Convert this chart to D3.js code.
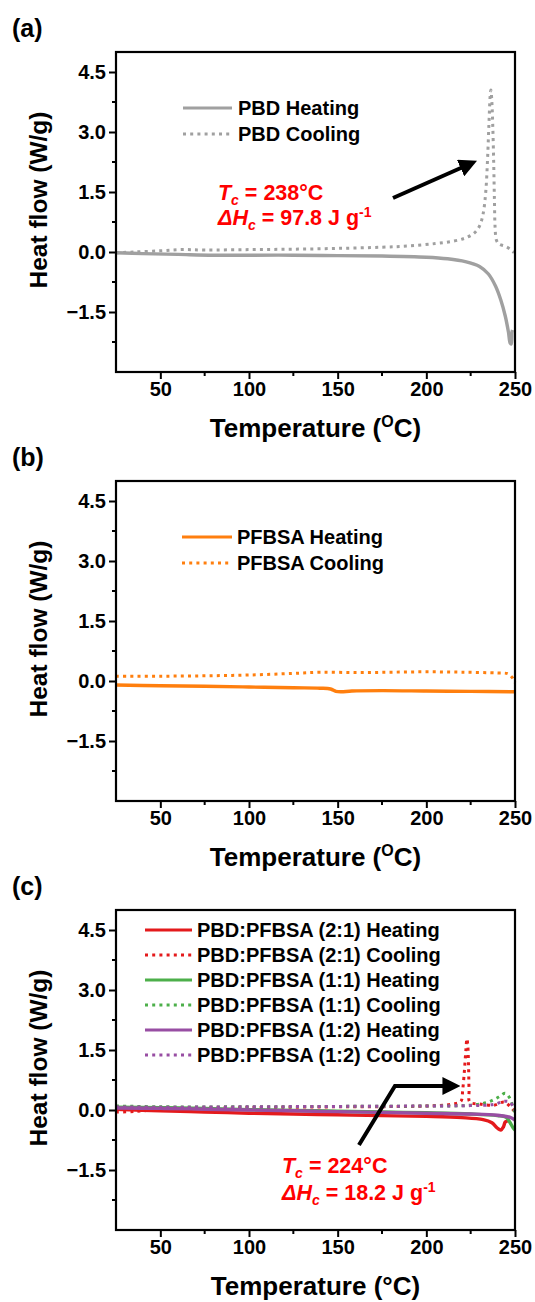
<!DOCTYPE html>
<html>
<head>
<meta charset="utf-8">
<script src="https://cdn.jsdelivr.net/npm/d3@7"></script>
<style>
  body { margin: 0; background: #fff; }
  text { font-family: Arial, "Liberation Sans", sans-serif; font-weight: bold; }
</style>
</head>
<body>
<svg id="chart"></svg>
<script>
// tick values shared by every panel
const xTicks = [50, 100, 150, 200, 250];
const xMinorTicks = [75, 125, 175, 225];
const yTicks = [-1.5, 0, 1.5, 3.0, 4.5];
const yMinorTicks = [-2.25, -0.75, 0.75, 2.25, 3.75];

// (a) PBD  [temperature, heat flow]
const pbdHeating = [[25,-0.02],[40,-0.04],[60,-0.06],[80,-0.08],[100,-0.08],[125,-0.08],[150,-0.09],[175,-0.1],
  [200,-0.13],[212,-0.17],[222,-0.24],[230,-0.36],[235,-0.55],[239,-0.85],[242,-1.2],[244.5,-1.6],[246.3,-2.0],
  [247.3,-2.28],[247.9,-2.3],[248.3,-2.0],[248.6,-1.95]];
const pbdCooling = [[25,-0.02],[35,0.0],[50,0.03],[62,0.06],[75,0.05],[100,0.06],[125,0.07],[150,0.09],[175,0.12],
  [190,0.15],[205,0.21],[215,0.27],[222,0.35],[227,0.47],[230,0.65],[232,0.95],[233.5,1.5],[234.5,2.3],[235.3,3.2],
  [236,3.9],[236.4,4.05],[236.9,3.8],[237.5,3.1],[238,2.2],[238.4,1.3],[238.8,0.6],[239.5,0.3],[241,0.2],[244,0.15],
  [247,0.08],[249.5,-0.02]];

// (b) PFBSA
const pfbsaHeating = [[25,-0.1],[50,-0.12],[75,-0.13],[100,-0.15],[125,-0.17],[140,-0.18],[146,-0.2],[149,-0.26],
  [152,-0.27],[158,-0.25],[175,-0.24],[200,-0.25],[225,-0.26],[250,-0.27]];
const pfbsaCooling = [[25,0.12],[50,0.12],[75,0.13],[100,0.15],[125,0.19],[140,0.22],[160,0.21],[180,0.22],[200,0.23],
  [220,0.22],[240,0.2],[246,0.18],[248.5,0.08],[250,-0.04]];

// (c) blends
const blend21Heating = [[25,0.02],[50,-0.02],[75,-0.05],[100,-0.08],[125,-0.1],[150,-0.12],[175,-0.14],[200,-0.16],
  [220,-0.19],[232,-0.24],[237,-0.32],[240,-0.45],[242,-0.5],[243.5,-0.42],[244.5,-0.3],[246,-0.27]];
const blend21Cooling = [[25,-0.05],[35,-0.04],[50,0.02],[65,0.05],[100,0.06],[150,0.08],[200,0.1],[215,0.15],
  [219.5,0.22],[220.5,0.5],[221.5,1.0],[222.3,1.5],[222.9,1.78],[223.4,1.6],[223.8,1.1],[224.1,0.5],[224.5,0.2],
  [230,0.15],[238,0.12],[244,0.2],[247,0.1],[250,-0.05]];
const blend11Heating = [[25,0.07],[50,0.06],[75,0.04],[100,0.01],[125,-0.01],[150,-0.03],[175,-0.05],[200,-0.07],
  [225,-0.1],[240,-0.14],[245,-0.18],[247,-0.3],[249,-0.45],[250,-0.5]];
const blend11Cooling = [[25,0.1],[50,0.08],[100,0.08],[150,0.09],[200,0.1],[225,0.12],[235,0.2],[241,0.33],
  [244.5,0.42],[247,0.3],[249,0.05],[250,-0.08]];
const blend12Heating = [[25,0.05],[50,0.04],[75,0.02],[100,0.0],[125,-0.02],[150,-0.04],[175,-0.06],[200,-0.08],
  [225,-0.1],[240,-0.13],[247,-0.18],[250,-0.25]];
const blend12Cooling = [[25,0.08],[50,0.07],[100,0.08],[150,0.09],[200,0.1],[225,0.11],[238,0.14],[244,0.22],
  [247,0.2],[249,0.08],[250,-0.02]];

const w = 535, h = 1302;
const left = 116, right = 515, plotH = 320;
const gray = "#a0a0a0", orange = "#ff7f0e", red = "#e41a1c", green = "#4daf4a", purple = "#984ea3";
const dots = "3 4.2";

const svg = d3.select("#chart").attr("width", w).attr("height", h);

const xScale = d3.scaleLinear().domain([25, 250]).range([left, right]);

const panels = [
  { label: "(a)", top: 52, degree: "O",
    series: [
      { name: "PBD Heating", data: pbdHeating, color: gray, dash: null },
      { name: "PBD Cooling", data: pbdCooling, color: gray, dash: dots }
    ],
    legend: { x1: 183, x2: 232, tx: 238, y0: 56, dy: 26 },
    note: { t: 82.5, v1: 1.3, v2: 0.675, tc: "238°C", dh: "97.8" },
    arrow: [[181.2, 1.35], [225.8, 2.225]] },
  { label: "(b)", top: 481, degree: "O",
    series: [
      { name: "PFBSA Heating", data: pfbsaHeating, color: orange, dash: null },
      { name: "PFBSA Cooling", data: pfbsaCooling, color: orange, dash: dots }
    ],
    legend: { x1: 182, x2: 232, tx: 237, y0: 56, dy: 26 } },
  { label: "(c)", top: 910, degree: "°",
    series: [
      { name: "PBD:PFBSA (2:1) Heating", data: blend21Heating, color: red, dash: null },
      { name: "PBD:PFBSA (2:1) Cooling", data: blend21Cooling, color: red, dash: dots },
      { name: "PBD:PFBSA (1:1) Heating", data: blend11Heating, color: green, dash: null },
      { name: "PBD:PFBSA (1:1) Cooling", data: blend11Cooling, color: green, dash: dots },
      { name: "PBD:PFBSA (1:2) Heating", data: blend12Heating, color: purple, dash: null },
      { name: "PBD:PFBSA (1:2) Cooling", data: blend12Cooling, color: purple, dash: dots }
    ],
    legend: { x1: 145, x2: 192, tx: 197, y0: 20, dy: 25 },
    note: { t: 118.6, v1: -1.575, v2: -2.25, tc: "224°C", dh: "18.2" },
    arrow: [[162, -0.875], [182.3, 0.6], [216.2, 0.6]] }
];

// arrowhead
svg.append("defs").append("marker")
  .attr("id", "head")
  .attr("viewBox", "0 0 10 10")
  .attr("refX", 7).attr("refY", 5)
  .attr("markerWidth", 4.5).attr("markerHeight", 4.5)
  .attr("markerUnits", "strokeWidth")
  .attr("orient", "auto")
  .append("path").attr("d", "M0,0 L10,5 L0,10 z").attr("fill", "#000");

panels.forEach((p) => {
  const yScale = d3.scaleLinear().domain([-3, 5]).range([p.top + plotH, p.top]);
  const g = svg.append("g");

  const line = d3.line()
    .x((d) => xScale(d[0]))
    .y((d) => yScale(d[1]))
    .curve(d3.curveCatmullRom.alpha(0.5));

  // data
  p.series.forEach((s) => {
    g.append("path")
      .datum(s.data)
      .attr("fill", "none")
      .attr("stroke", s.color)
      .attr("stroke-width", s.dash ? 3 : 3.4)
      .attr("stroke-dasharray", s.dash)
      .attr("d", line);
  });

  // frame
  g.append("rect")
    .attr("x", left).attr("y", p.top)
    .attr("width", right - left).attr("height", plotH)
    .attr("fill", "none").attr("stroke", "#000").attr("stroke-width", 2.2);

  // axes
  const xAxis = d3.axisBottom(xScale).tickValues(xTicks).tickSize(7).tickPadding(3);
  const xAxisGroup = g.append("g")
    .attr("transform", `translate(0, ${p.top + plotH})`)
    .call(xAxis);
  xAxisGroup.append("g").selectAll("line").data(xMinorTicks).join("line")
    .attr("x1", (d) => xScale(d)).attr("x2", (d) => xScale(d))
    .attr("y1", 0).attr("y2", 4).attr("stroke", "#000").attr("stroke-width", 2);

  const yAxis = d3.axisLeft(yScale).tickValues(yTicks).tickSize(7).tickPadding(3)
    .tickFormat(d3.format(".1f"));
  const yAxisGroup = g.append("g")
    .attr("transform", `translate(${left}, 0)`)
    .call(yAxis);
  yAxisGroup.append("g").selectAll("line").data(yMinorTicks).join("line")
    .attr("y1", (d) => yScale(d)).attr("y2", (d) => yScale(d))
    .attr("x1", 0).attr("x2", -4).attr("stroke", "#000").attr("stroke-width", 2);

  [xAxisGroup, yAxisGroup].forEach((ag) => {
    ag.select(".domain").remove();
    ag.selectAll(".tick line").attr("stroke", "#000").attr("stroke-width", 2);
    ag.selectAll(".tick text").attr("fill", "#000").style("font-size", "20px")
      .style("font-family", "Arial, 'Liberation Sans', sans-serif").style("font-weight", "bold");
  });

  // axis titles
  const xt = g.append("text")
    .attr("x", (left + right) / 2).attr("y", p.top + plotH + 65)
    .attr("text-anchor", "middle").style("font-size", "26px");
  xt.append("tspan").text("Temperature (");
  if (p.degree === "O") {
    xt.append("tspan").text("O").style("font-size", "16px").attr("dy", -10);
    xt.append("tspan").text("C)").attr("dy", 10);
  } else {
    xt.append("tspan").text("°C)");
  }

  g.append("text")
    .attr("transform", `translate(47, ${p.top + plotH / 2 - 12}) rotate(-90)`)
    .attr("text-anchor", "middle").style("font-size", "24.5px")
    .text("Heat flow (W/g)");

  // panel label
  g.append("text").attr("x", 12).attr("y", p.top - 15)
    .style("font-size", "25px").text(p.label);

  // legend
  p.series.forEach((s, i) => {
    const yy = p.top + p.legend.y0 + i * p.legend.dy;
    g.append("line")
      .attr("x1", p.legend.x1).attr("x2", p.legend.x2)
      .attr("y1", yy).attr("y2", yy)
      .attr("stroke", s.color).attr("stroke-width", 3)
      .attr("stroke-dasharray", s.dash);
    g.append("text").attr("x", p.legend.tx).attr("y", yy + 7)
      .style("font-size", "20px").attr("fill", "#000").text(s.name);
  });

  // annotation
  if (p.note) {
    const t1 = g.append("text").attr("x", xScale(p.note.t)).attr("y", yScale(p.note.v1))
      .attr("fill", "#ff0000").style("font-size", "21.5px");
    t1.append("tspan").text("T").style("font-style", "italic");
    t1.append("tspan").text("c").style("font-style", "italic").style("font-size", "14px").attr("dy", 5);
    t1.append("tspan").text(" = " + p.note.tc).attr("dy", -5);

    const t2 = g.append("text").attr("x", xScale(p.note.t)).attr("y", yScale(p.note.v2))
      .attr("fill", "#ff0000").style("font-size", "21.5px");
    t2.append("tspan").text("ΔH").style("font-style", "italic");
    t2.append("tspan").text("c").style("font-style", "italic").style("font-size", "14px").attr("dy", 5);
    t2.append("tspan").text(" = " + p.note.dh + " J g").attr("dy", -5);
    t2.append("tspan").text("-1").style("font-size", "14px").attr("dy", -8);

    g.append("path")
      .datum(p.arrow)
      .attr("fill", "none").attr("stroke", "#000").attr("stroke-width", 4)
      .attr("marker-end", "url(#head)")
      .attr("d", d3.line().x((d) => xScale(d[0])).y((d) => yScale(d[1])));
  }
});
</script>
</body>
</html>
